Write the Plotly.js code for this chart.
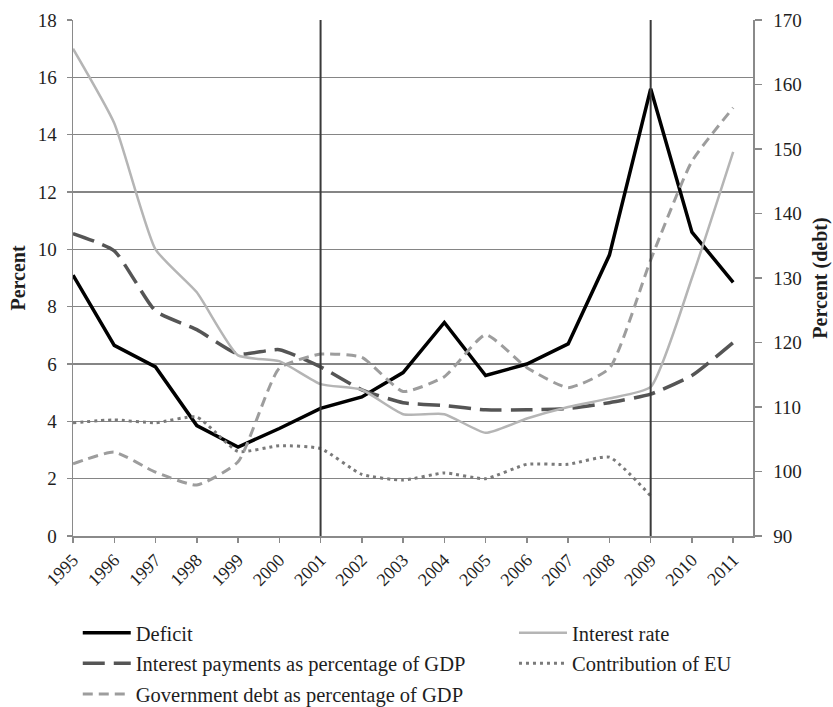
<!DOCTYPE html>
<html><head><meta charset="utf-8">
<script src="https://cdn.plot.ly/plotly-3.0.1.min.js"></script>
<style>html,body{margin:0;padding:0;background:#fff}#chart{width:833px;height:707px}</style>
</head><body><div id="chart"></div>
<script>
const years = [1995,1996,1997,1998,1999,2000,2001,2002,2003,2004,2005,2006,2007,2008,2009,2010,2011];
const deficit = [9.1,6.65,5.9,3.85,3.1,3.75,4.45,4.85,5.7,7.45,5.6,6.0,6.7,9.8,15.6,10.6,8.85];
const interestRate = [17.0,14.4,10.0,8.5,6.3,6.1,5.3,5.1,4.25,4.25,3.6,4.1,4.5,4.8,5.2,9.0,13.4];
const interestPayments = [10.55,9.95,7.85,7.2,6.35,6.5,5.9,5.1,4.65,4.55,4.4,4.4,4.45,4.65,4.95,5.6,6.75];
const euContribution = [3.95,4.05,3.95,4.15,2.95,3.15,3.05,2.15,1.95,2.2,2.0,2.5,2.5,2.75,1.4];
const govDebt = [101.2,103.0,99.9,97.9,101.5,116.0,118.2,117.7,112.4,114.7,121.2,116.1,113.0,116.0,132.8,148.1,156.4];
const eventYears = [2001, 2009];
const leftTicks = [0,2,4,6,8,10,12,14,16,18];
const rightTicks = [90,100,110,120,130,140,150,160,170];

const serif = '"Liberation Serif", "Times New Roman", serif';
const txt = '#1e1e1e';

const traces = [
  {x: years, y: deficit, name: 'Deficit', type: 'scatter', mode: 'lines',
   line: {color: '#000000', width: 3.5}, legend: 'legend', legendgroup: 'g1'},
  {x: years, y: interestPayments, name: 'Interest payments as percentage of GDP', type: 'scatter', mode: 'lines',
   line: {color: '#555555', width: 3.5, dash: '22px,9px', shape: 'spline', smoothing: 0.5}, legend: 'legend', legendgroup: 'g2'},
  {x: years, y: govDebt, name: 'Government debt as percentage of GDP', type: 'scatter', mode: 'lines', yaxis: 'y2',
   line: {color: '#9d9d9d', width: 3, dash: '10px,6px', shape: 'spline', smoothing: 0.5}, legend: 'legend', legendgroup: 'g3'},
  {x: years, y: interestRate, name: 'Interest rate', type: 'scatter', mode: 'lines',
   line: {color: '#b5b5b5', width: 2.5, shape: 'spline', smoothing: 0.5}, legend: 'legend2', legendgroup: 'g4'},
  {x: years.slice(0, euContribution.length), y: euContribution, name: 'Contribution of EU', type: 'scatter', mode: 'lines',
   line: {color: '#7a7a7a', width: 3, dash: '3px,4px', shape: 'spline', smoothing: 0.5}, legend: 'legend2', legendgroup: 'g5'}
];

const shapes = eventYears.map(yr => ({
  type: 'line', xref: 'x', yref: 'paper', x0: yr, x1: yr, y0: 0, y1: 1,
  line: {color: '#3a3a3a', width: 2}
}));

const legendBase = {
  orientation: 'v', xanchor: 'left', yanchor: 'top', y: -0.149,
  font: {family: serif, size: 20.5, color: txt}, bgcolor: 'rgba(0,0,0,0)',
  tracegroupgap: 1, itemwidth: 48, traceorder: 'grouped'
};

const layout = {
  width: 833, height: 707,
  paper_bgcolor: '#ffffff', plot_bgcolor: '#ffffff',
  margin: {l: 73, r: 80, t: 20, b: 171, autoexpand: false},
  showlegend: true,
  font: {family: serif, size: 18, color: txt},
  xaxis: {
    range: [1995, 2011.48], tickvals: years, ticktext: years.map(String),
    tickangle: -45, showgrid: false, zeroline: false,
    showline: true, linecolor: '#8a8a8a', linewidth: 1.5,
    ticks: 'outside', ticklen: 5, tickcolor: '#8a8a8a', tickwidth: 1.5,
    tickfont: {family: serif, size: 18, color: txt}
  },
  yaxis: {
    range: [0, 18], tickvals: leftTicks, showgrid: true, gridcolor: '#858585', gridwidth: 1.5,
    zeroline: false, showline: true, linecolor: '#8a8a8a', linewidth: 1.5,
    ticks: 'outside', ticklen: 5, tickcolor: '#8a8a8a', tickwidth: 1.5, ticklabelstandoff: 6,
    tickfont: {family: serif, size: 19, color: txt},
    title: {text: '<b>Percent</b>', font: {family: serif, size: 20, color: txt}, standoff: 6}
  },
  yaxis2: {
    range: [90, 170], tickvals: rightTicks, overlaying: 'y', side: 'right', anchor: 'x',
    showgrid: false, zeroline: false, showline: true, linecolor: '#8a8a8a', linewidth: 1.5,
    ticks: 'outside', ticklen: 7, tickcolor: '#8a8a8a', tickwidth: 1.5, ticklabelstandoff: 8,
    tickfont: {family: serif, size: 19, color: txt},
    title: {text: '<b>Percent (debt)</b>', font: {family: serif, size: 20, color: txt}, standoff: 12}
  },
  shapes: shapes,
  legend: Object.assign({}, legendBase, {x: 0.007}),
  legend2: Object.assign({}, legendBase, {x: 0.6485})
};

Plotly.newPlot('chart', traces, layout, {staticPlot: true, displayModeBar: false});
</script>
</body></html>
